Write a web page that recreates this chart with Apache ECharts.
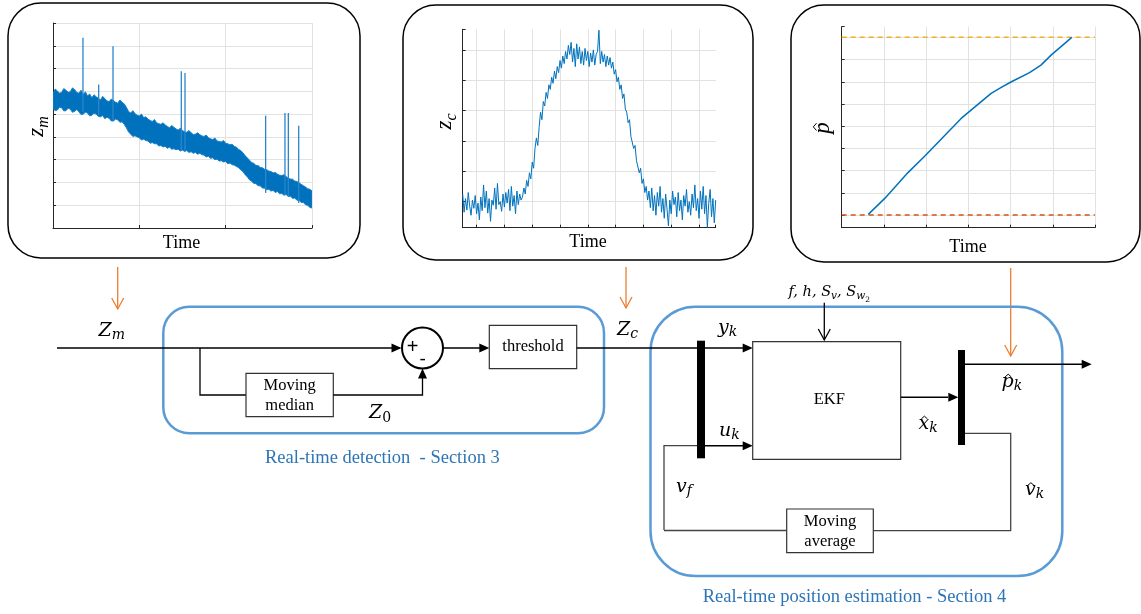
<!DOCTYPE html>
<html><head><meta charset="utf-8">
<script src="https://cdn.jsdelivr.net/npm/echarts@6/dist/echarts.min.js"></script>
<style>html,body{margin:0;padding:0;background:#fff}#c{width:1141px;height:614px}</style>
</head><body><div id="c"></div>
<script>
// ---------- Panel 1: z_m (measured signal, noisy band + spikes) ----------
const zmTime = [0,2.5,5,7.5,10,12.5,15,17.5,20,22.5,25,27.5,30,32.5,35,37.5,40,42.5,45,47.5,50,52.5,55,57.5,60,62.5,65,67.5,70,72.5,75,77.5,80,82.5,85,87.5,90,92.5,95,97.5,100,102.5,105,107.5,110,112.5,115,117.5,120,122.5,125,127.5,130,132.5,135,137.5,140,142.5,145,147.5,150,152.5,155,157.5,160,162.5,165,167.5,170,172.5,175,177.5,180,182.5,185,187.5,190,192.5,195,197.5,200,202.5,205,207.5,210,212.5,215,217.5,220,222.5,225,227.5,230,232.5,235,237.5,240,242.5,245,247.5,250,252.5,255,257.5,260,262.5,265,267.5,270,272.5,275,277.5,280,282.5,285,287.5,290,292.5,295,297.5,300];
const zmHigh = [5.90,6.10,6.02,5.92,5.95,6.12,6.05,5.96,5.98,6.15,6.08,5.95,5.92,6.05,5.85,5.98,5.80,5.88,5.72,5.85,5.76,5.70,5.62,5.78,5.68,5.58,5.55,5.66,5.60,5.52,5.48,5.62,5.52,5.45,5.30,5.12,5.05,5.15,5.02,4.95,4.92,5.00,4.85,4.88,4.78,4.72,4.68,4.76,4.62,4.58,4.55,4.62,4.52,4.46,4.40,4.50,4.42,4.35,4.30,4.38,4.28,4.22,4.20,4.28,4.18,4.10,4.12,4.18,4.10,4.04,4.02,4.08,3.96,3.92,3.88,3.95,3.82,3.80,3.78,3.84,3.72,3.70,3.65,3.68,3.58,3.55,3.45,3.40,3.30,3.18,3.08,2.98,2.88,2.84,2.75,2.74,2.66,2.64,2.58,2.56,2.50,2.48,2.42,2.44,2.36,2.32,2.30,2.34,2.26,2.18,2.15,2.14,2.06,2.04,1.98,1.92,1.86,1.80,1.72,1.70,1.62];
const zmLow = [5.25,5.15,5.18,5.30,5.28,5.14,5.15,5.26,5.22,5.08,5.12,5.20,5.10,4.98,5.00,5.08,5.05,4.92,4.95,5.04,5.00,4.90,4.88,4.94,4.80,4.86,4.82,4.70,4.70,4.78,4.75,4.64,4.66,4.55,4.40,4.22,4.12,4.02,4.05,4.00,3.96,3.86,3.90,3.84,3.82,3.72,3.75,3.70,3.70,3.60,3.62,3.56,3.58,3.50,3.55,3.46,3.48,3.44,3.46,3.38,3.42,3.36,3.40,3.32,3.35,3.28,3.32,3.24,3.28,3.22,3.20,3.12,3.15,3.06,3.08,3.00,3.02,2.94,2.95,2.90,2.92,2.82,2.85,2.78,2.76,2.70,2.65,2.55,2.48,2.34,2.25,2.12,2.05,1.96,1.95,1.86,1.85,1.76,1.75,1.68,1.70,1.62,1.65,1.56,1.60,1.50,1.52,1.44,1.47,1.38,1.40,1.30,1.32,1.22,1.22,1.12,1.12,1.02,1.00,0.90,0.88];
const zmSpikeTime = [34.7,52.9,69.5,148.6,152.9,246.3,268.7,272.6,284.6];
const zmSpikeLow  = [5.10,4.95,4.75,3.40,3.40,1.54,1.46,1.40,1.10];
const zmSpikePeak = [8.35,6.30,7.98,6.88,6.81,4.93,5.05,5.05,4.49];

// ---------- Panel 2: z_c (corrected signal) ----------
const zcStart = 0.5, zcStep = 0.05;
const zcValues = [
 1.25,0.65,1.10,0.72,1.30,0.85,0.55,1.05,0.78,1.20,0.60,0.95,0.40,1.15,0.70,1.55,0.80,1.35,0.62,1.10,0.35,1.05,0.88,1.45,0.75,1.60,0.90,1.00,0.68,1.25,0.82,1.30,0.95,1.40,0.70,1.50,0.85,1.20,0.60,1.35,0.90,1.25,1.05,
 1.15,1.45,1.25,1.70,1.50,1.95,1.75,2.30,2.10,2.75,3.10,2.85,3.45,3.95,3.70,4.30,4.15,4.60,4.40,4.85,4.70,5.10,4.90,5.30,5.05,5.45,5.25,5.65,5.40,5.80,5.55,5.95,5.70,6.15,5.85,6.25,
 5.60,6.05,5.45,6.20,5.70,6.10,5.55,5.95,5.50,6.05,5.65,5.95,5.45,5.90,5.60,6.00,5.50,5.85,5.95,6.65,5.55,5.95,5.60,5.85,5.45,5.80,5.50,5.75,5.40,
 5.60,5.20,5.35,4.95,5.10,4.70,4.85,4.40,4.55,4.05,3.95,3.60,3.70,3.15,3.20,2.75,2.85,2.35,2.40,1.95,2.10,1.60,1.75,1.30,1.50,1.05,1.35,
 0.80,1.45,0.70,1.20,0.55,1.30,0.85,1.50,0.65,1.10,0.45,1.25,0.75,0.20,1.05,0.60,1.35,0.90,1.15,0.50,1.30,0.70,1.05,0.40,1.20,0.85,1.40,0.65,1.00,0.55,1.25,0.80,1.55,0.70,1.10,0.45,1.35,0.75,1.50,0.60,1.20,0.15,0.95,1.40,0.50,1.10,0.30,1.05
];

// ---------- Panel 3: estimated position p-hat ----------
const pTime   = [0.63,1.02,1.57,1.97,2.83,3.54,3.78,4.02,4.45,4.72,4.96,5.45];
const pValues = [1.03,1.75,2.91,3.66,5.35,6.48,6.75,7.00,7.41,7.75,8.20,9.00];
const pUpper = 9, pLower = 1, pTimeMin = 0, pTimeMax = 6;

// ---------- text ----------
const TIME_LABEL = 'Time';
const SEC3 = 'Real-time detection  - Section 3';
const SEC4 = 'Real-time position estimation - Section 4';

const SERIF = '"Liberation Serif","Times New Roman",serif';
const MATHF = '"DejaVu Serif",serif';
const BLUE = '#5B9BD5', ORANGE = '#ED7D31', LINEBLUE = '#0072BD';

const mctx = document.createElement('canvas').getContext('2d');
function tw(t, font){ mctx.font = font; return mctx.measureText(t).width; }

function mathParts(parts, x0, base, family) {
  let x = x0; const els = [];
  parts.forEach(p => {
    const font = (p.italic === false ? '' : 'italic ') + p.size + 'px ' + (family || MATHF);
    const y = base + (p.dy || 0);
    els.push({type:'text', x: x, y: y - 0.3 * p.size, silent:true,
      style:{text:p.t, font:font, fill:'#000', align:'left', verticalAlign:'middle'}});
    const w = tw(p.t, font);
    if (p.hat) {
      const cx = x + w * (p.hatPos || 0.55), hy = y - 0.66 * p.size, s = p.size;
      els.push({type:'polyline', silent:true, shape:{points:[[cx-0.16*s, hy+0.1*s],[cx, hy-0.04*s],[cx+0.16*s, hy+0.1*s]]},
        style:{stroke:'#000', lineWidth:1, fill:'none'}});
    }
    x += w + (p.gap || 0);
  });
  return {els: els, width: x - x0};
}
function mathAt(parts, x, base, family){ return mathParts(parts, x, base, family).els; }
function mathRot(parts, cx, cy, family){
  const w = mathParts(parts, 0, 0, family).width;
  const s = parts[0].size;
  return [{type:'group', x:cx, y:cy, rotation:Math.PI/2, silent:true,
    children: mathParts(parts, -w/2, 0.3*s, family).els}];
}
function seg(pts, color, w){ return {type:'polyline', silent:true, shape:{points:pts}, style:{stroke:color||'#000', lineWidth:w||1.5, fill:'none'}}; }
function headR(x,y){ return {type:'polygon', silent:true, shape:{points:[[x,y],[x-10,y-4.5],[x-10,y+4.5]]}, style:{fill:'#000'}}; }
function headU(x,y){ return {type:'polygon', silent:true, shape:{points:[[x,y],[x-4.5,y+10],[x+4.5,y+10]]}, style:{fill:'#000'}}; }
function openDown(x,y,color,w){ return seg([[x-6,y-11],[x,y],[x+6,y-11]], color, w); }
function orangeArrow(x,y1,y2){ return [seg([[x,y1],[x,y2]], ORANGE, 1.3), openDown(x,y2,ORANGE,1.3)]; }
function rrect(x,y,w,h,r,stroke,lw){ return {type:'rect', silent:true, shape:{x:x,y:y,width:w,height:h,r:r}, style:{fill:'none', stroke:stroke, lineWidth:lw}}; }
function box(x,y,w,h){ return {type:'rect', silent:true, shape:{x:x,y:y,width:w,height:h}, style:{fill:'#fff', stroke:'#333', lineWidth:1.2}}; }
function txt(t,x,y,font,color,align){ return {type:'text', silent:true, x:x, y:y, style:{text:t, font:font, fill:color||'#000', align:align||'center', verticalAlign:'middle'}}; }

const g = [];
// top panel frames
g.push(rrect(8,3,352,255,33,'#000',1.5));
g.push(rrect(403,5,350,255,33,'#000',1.5));
g.push(rrect(791,5,349,257,33,'#000',1.5));
// panel axis titles
g.push(txt(TIME_LABEL,181.5,243,'18px '+SERIF));
g.push(txt(TIME_LABEL,588,242.5,'18px '+SERIF));
g.push(txt(TIME_LABEL,968,247,'18px '+SERIF));
g.push(...mathRot([{t:'z',size:23},{t:'m',size:16,dy:5}],36.5,126.5,SERIF));
g.push(...mathRot([{t:'z',size:23},{t:'c',size:16,dy:5}],445,121.5,SERIF));
g.push(...mathRot([{t:'p',size:23,hat:true,hatPos:0.6}],822.5,128,SERIF));

// orange arrows
g.push(...orangeArrow(117.7,267,309));
g.push(...orangeArrow(626,267,308));
g.push(...orangeArrow(1010.7,268,356));

// ---- detection block ----
g.push(rrect(163.3,306.7,440.7,126.6,26,BLUE,2.5));
g.push(seg([[57,348],[400,348]],'#000',1.6), headR(401.5,348));
g.push({type:'circle', silent:true, shape:{cx:422.5,cy:348,r:20.5}, style:{fill:'#fff', stroke:'#000', lineWidth:2}});
g.push(txt('+',412.7,347.5,'20px "Liberation Sans"'));
g.push(txt('-',422.7,359.5,'19px "Liberation Sans"'));
g.push(seg([[443,348],[480,348]],'#000',1.6), headR(489.3,348));
g.push(box(489.3,325.3,87.4,43.4));
g.push(txt('threshold',533,346.5,'16.5px '+SERIF));
g.push(seg([[200,348],[200,395],[246,395]],'#000',1.3));
g.push(box(246,373.3,87.3,43.4));
g.push(txt('Moving',289.6,386,'16.5px '+SERIF));
g.push(txt('median',289.6,405.5,'16.5px '+SERIF));
g.push(seg([[333.3,395],[422.5,395],[422.5,378]],'#000',1.3), headU(422.5,368.5));
g.push(...mathAt([{t:'Z',size:19},{t:'m',size:14,dy:3}],98.5,336.5));
g.push(...mathAt([{t:'Z',size:19},{t:'0',size:14,dy:4,italic:false}],369,418.5));
g.push(txt(SEC3,265,458,'18.5px '+SERIF,'#2E75B6','left'));

// ---- estimation block ----
g.push(rrect(650.5,306.7,411.8,269.3,45,BLUE,2.5));
g.push(seg([[576.7,348],[743,348]],'#000',1.6), headR(752.7,348));
g.push(...mathAt([{t:'Z',size:19},{t:'c',size:14,dy:3}],617,336));
g.push({type:'rect', silent:true, shape:{x:697,y:340.7,width:8,height:117.6}, style:{fill:'#000'}});
g.push(...mathAt([{t:'y',size:19},{t:'k',size:14,dy:3}],718,334));
g.push(...mathAt([{t:'u',size:19},{t:'k',size:14,dy:3}],719,436.5));
g.push(seg([[664,530],[664,445.7],[697,445.7]],'#444',1.3));
g.push(seg([[705,445.7],[743,445.7]],'#000',1.6), headR(752.7,445.7));
g.push(box(752.7,341.7,148,117.6));
g.push(txt('EKF',829.3,399.5,'16.5px '+SERIF));
g.push(...mathAt([{t:'f, h, S',size:14.5},{t:'v',size:10.5,dy:3},{t:', S',size:14.5},{t:'w',size:10.5,dy:3},{t:'2',size:7.5,dy:6,italic:false}],788.5,296.5));
g.push(seg([[824.3,302.7],[824.3,340]],'#000',1.3), openDown(824.3,340,'#000',1.3));
g.push(seg([[900.7,397.3],[948,397.3]],'#000',1.6), headR(958.3,397.3));
g.push({type:'rect', silent:true, shape:{x:958,y:350,width:7,height:95}, style:{fill:'#000'}});
g.push(seg([[965,364.3],[1082,364.3]],'#000',1.6), headR(1091.7,364.3));
g.push(seg([[965,433.3],[1010.7,433.3],[1010.7,530.7],[873.3,530.7]],'#444',1.3));
g.push(box(786.7,509,86.6,43.7));
g.push(txt('Moving',830,521.5,'16.5px '+SERIF));
g.push(txt('average',830,541.5,'16.5px '+SERIF));
g.push(seg([[786.7,530.5],[664,530.5]],'#444',1.3));
g.push(...mathAt([{t:'x',size:19,hat:true},{t:'k',size:14,dy:3}],918.5,429.5));
g.push(...mathAt([{t:'v',size:19},{t:'f',size:14,dy:3}],676,492.5));
g.push(...mathAt([{t:'p',size:19,hat:true},{t:'k',size:14,dy:3}],1001.5,387.5));
g.push(...mathAt([{t:'v',size:19,hat:true},{t:'k',size:14,dy:3}],1025,496));
g.push(txt(SEC4,702.7,597.5,'18.5px '+SERIF,'#2E75B6','left'));

// ---------- axes ----------
const axisBase = {
  type:'value', axisLabel:{show:false},
  axisLine:{show:true, onZero:false, lineStyle:{color:'#262626', width:1}},
  axisTick:{show:true, inside:true, length:3, lineStyle:{color:'#262626', width:1}},
  splitLine:{show:true, lineStyle:{color:'#e2e2e2', width:1}}
};
const noEdge = {show:true, showMinLine:false, showMaxLine:false, lineStyle:{color:'#e2e2e2', width:1}};

const option = {
  animation:false,
  backgroundColor:'#fff',
  grid:[
    {left:53, top:23, width:259, height:205},
    {left:462.7, top:29.3, width:253, height:198.4},
    {left:841.7, top:26.7, width:253.3, height:201}
  ],
  xAxis:[
    Object.assign({}, axisBase, {gridIndex:0, min:0, max:300, interval:100}),
    Object.assign({}, axisBase, {gridIndex:1, min:0.5, max:9.6, minInterval:1, maxInterval:1, splitLine:noEdge}),
    Object.assign({}, axisBase, {gridIndex:2, min:pTimeMin, max:pTimeMax, interval:1})
  ],
  yAxis:[
    Object.assign({}, axisBase, {gridIndex:0, min:0, max:9, interval:1}),
    Object.assign({}, axisBase, {gridIndex:1, min:0.14, max:6.68, minInterval:1, maxInterval:1, splitLine:noEdge}),
    Object.assign({}, axisBase, {gridIndex:2, min:0.43, max:9.48, minInterval:1, maxInterval:1, splitLine:noEdge})
  ],
  series:[
    {type:'custom', name:'zm band', xAxisIndex:0, yAxisIndex:0, silent:true, clip:true,
     data:[[zmTime[0], zmLow[0]]],
     renderItem:function(params, api){
       const pts = [];
       for (let i=0;i<zmTime.length;i++) pts.push(api.coord([zmTime[i], zmHigh[i]]));
       for (let i=zmTime.length-1;i>=0;i--) pts.push(api.coord([zmTime[i], zmLow[i]]));
       return {type:'polygon', shape:{points:pts}, style:{fill:LINEBLUE, stroke:'#1a7fc6', lineWidth:1}};
     }},
    {type:'custom', name:'zm spikes', xAxisIndex:0, yAxisIndex:0, silent:true,
     data: zmSpikeTime.map((t,i)=>[t, zmSpikeLow[i], zmSpikePeak[i]]),
     encode:{x:0, y:[1,2]},
     renderItem:function(params, api){
       const a = api.coord([api.value(0), api.value(1)]), b = api.coord([api.value(0), api.value(2)]);
       return {type:'line', shape:{x1:a[0],y1:a[1],x2:b[0],y2:b[1]}, style:{stroke:'#2a85cc', lineWidth:1.3}};
     }},
    {type:'line', name:'zc', xAxisIndex:1, yAxisIndex:1, symbol:'none', silent:true,
     data: zcValues.map((v,i)=>[+(zcStart+i*zcStep).toFixed(2), v]),
     lineStyle:{color:LINEBLUE, width:1}},
    {type:'line', name:'p upper', xAxisIndex:2, yAxisIndex:2, symbol:'none', silent:true,
     data:[[pTimeMin,pUpper],[pTimeMax,pUpper]], lineStyle:{color:'#EDB120', width:1.5, type:[5,4]}},
    {type:'line', name:'p lower', xAxisIndex:2, yAxisIndex:2, symbol:'none', silent:true,
     data:[[pTimeMin,pLower],[pTimeMax,pLower]], lineStyle:{color:'#D95319', width:1.5, type:[5,4]}},
    {type:'line', name:'p hat', xAxisIndex:2, yAxisIndex:2, symbol:'none', silent:true,
     data: pTime.map((t,i)=>[t, pValues[i]]), lineStyle:{color:LINEBLUE, width:1.5}}
  ],
  graphic:{elements:g}
};
const chart = echarts.init(document.getElementById('c'), null, {renderer:'canvas'});
chart.setOption(option);
</script>
</body></html>
